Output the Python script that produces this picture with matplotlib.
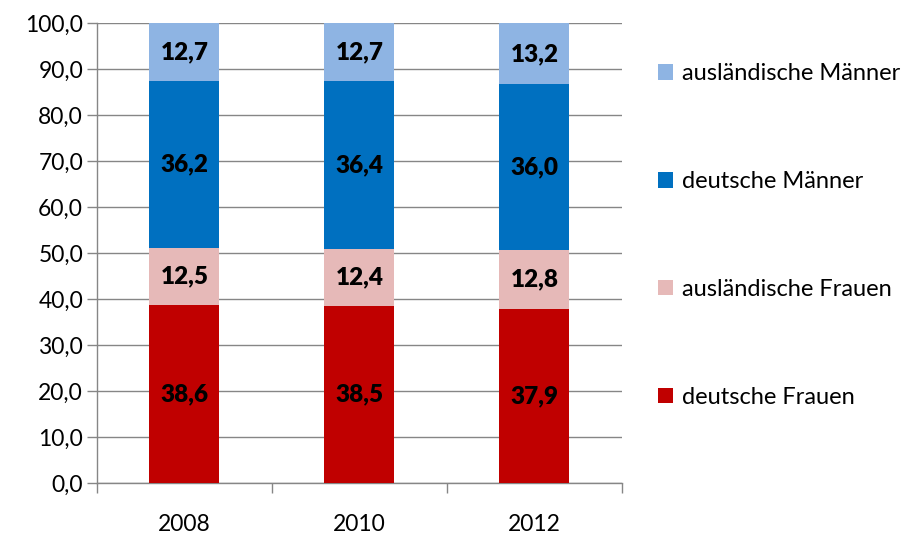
import numpy as np
import matplotlib.pyplot as plt
from matplotlib.patches import Patch

plt.rcParams['font.family'] = ['Lato', 'DejaVu Sans']

years = ['2008', '2010', '2012']
deutsche_frauen = [38.6, 38.5, 37.9]
auslaendische_frauen = [12.5, 12.4, 12.8]
deutsche_maenner = [36.2, 36.4, 36.0]
auslaendische_maenner = [12.7, 12.7, 13.2]

series = [
    ('deutsche Frauen', deutsche_frauen, '#C00000'),
    ('ausländische Frauen', auslaendische_frauen, '#E6B9B8'),
    ('deutsche Männer', deutsche_maenner, '#0070C0'),
    ('ausländische Männer', auslaendische_maenner, '#8EB4E3'),
]

fig = plt.figure(figsize=(9.14, 5.35), dpi=100)
ax = fig.add_axes([0.1061, 0.0972, 0.5744, 0.8598])

x = np.arange(len(years))
bottom = np.zeros(len(years))
handles = []
for name, vals, color in series:
    bars = ax.bar(x, vals, 0.4, bottom=bottom, color=color, zorder=3)
    labels = [f'{v:.1f}'.replace('.', ',') for v in vals]
    ax.bar_label(bars, labels=labels, label_type='center',
                 fontsize=17.5, fontweight='heavy', color='black')
    bottom += np.array(vals)
    handles.append(Patch(facecolor=color, label=name))

gray = '#868686'
ax.set_xlim(-0.5, 2.5)
ax.set_ylim(0, 100)
ax.set_yticks(np.arange(0, 101, 10))
ax.set_yticklabels([f'{v:.1f}'.replace('.', ',') for v in np.arange(0, 101, 10)])
ax.yaxis.grid(True, color=gray, linewidth=1, zorder=0)
ax.set_axisbelow(True)

ax.set_xticks(x)
ax.set_xticklabels(years)
ax.set_xticks([-0.5, 0.5, 1.5, 2.5], minor=True)
ax.tick_params(axis='x', which='major', length=0, pad=22, labelsize=16.5)
ax.tick_params(axis='x', which='minor', length=7, color=gray, width=1)
ax.tick_params(axis='y', length=7, color=gray, width=1, labelsize=16.5, pad=3)

for side in ['top', 'right']:
    ax.spines[side].set_visible(False)
for side in ['left', 'bottom']:
    ax.spines[side].set_color(gray)
    ax.spines[side].set_linewidth(1)

fig.legend(handles=handles[::-1], loc='center left',
           bbox_to_anchor=(0.72, 0.56), frameon=False, fontsize=17,
           handlelength=0.65, handleheight=0.65, handletextpad=0.35,
           labelspacing=3.68, borderpad=0, borderaxespad=0)

fig.savefig('out.png', dpi=100)
